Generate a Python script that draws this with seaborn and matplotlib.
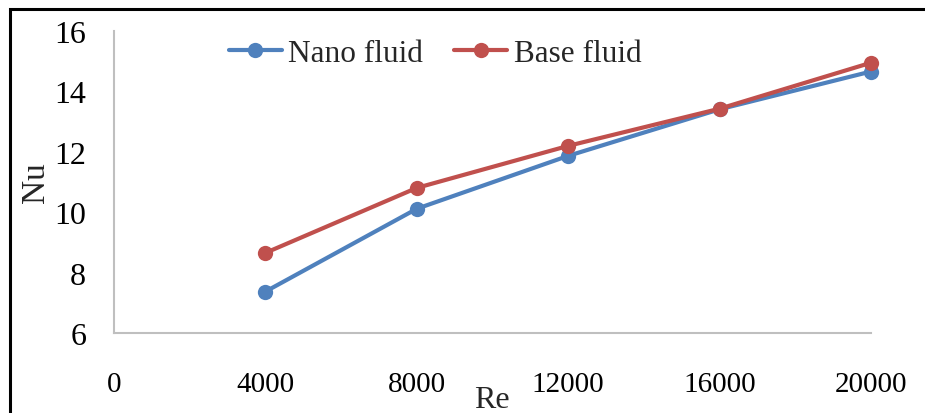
import matplotlib
matplotlib.use("Agg")
import matplotlib.pyplot as plt
import seaborn as sns
import pandas as pd
from matplotlib.patches import Rectangle

re_values = [4000, 8000, 12000, 16000, 20000]
nano_fluid = [7.37, 10.11, 11.86, 13.40, 14.65]
base_fluid = [8.65, 10.80, 12.19, 13.42, 14.94]
series_names = ["Nano fluid", "Base fluid"]
x_ticks = [0, 4000, 8000, 12000, 16000, 20000]
y_ticks = [6, 8, 10, 12, 14, 16]

df = pd.DataFrame({
    "Re": re_values * 2,
    "Nu": nano_fluid + base_fluid,
    "Fluid": [series_names[0]] * len(re_values) + [series_names[1]] * len(re_values),
})

sns.set_theme(style="white")
plt.rcParams["font.family"] = ["Liberation Serif", "DejaVu Serif"]

fig = plt.figure(figsize=(9.25, 4.14), dpi=100)
ax = fig.add_axes([114 / 925, 1 - 334 / 414, (871 - 114) / 925, (334 - 31.7) / 414])

palette = {"Nano fluid": "#4F81BD", "Base fluid": "#C0504D"}
sns.lineplot(data=df, x="Re", y="Nu", hue="Fluid", hue_order=series_names,
             palette=palette, marker="o", markersize=11, markeredgewidth=0,
             linewidth=3.0, ax=ax)
for ln in ax.lines:
    ln.set_clip_on(False)

ax.set_xlim(0, 20000)
ax.set_ylim(6, 16)
ax.set_xticks(x_ticks)
ax.set_yticks(y_ticks)
ax.tick_params(axis="both", length=0, colors="black")
ax.tick_params(axis="y", pad=20, labelsize=23)
ax.tick_params(axis="x", pad=27, labelsize=21)
for side in ["top", "right"]:
    ax.spines[side].set_visible(False)
for side in ["left", "bottom"]:
    ax.spines[side].set_color("#BFBFBF")
    ax.spines[side].set_linewidth(1.5)

ax.set_xlabel("")
ax.set_ylabel("")
fig.text(492 / 925, 1 - 401 / 414, "Re", ha="center", va="center", fontsize=23)
fig.text(36 / 925, 1 - 183 / 414, "Nu", ha="center", va="center", fontsize=24, rotation=90)

handles, labels = ax.get_legend_handles_labels()
for h in handles:
    h.set_linewidth(3.0)
    h.set_markersize(11)
ax.legend(handles, labels, ncol=2, loc="center", bbox_to_anchor=(435 / 925, 1 - 54 / 414),
          bbox_transform=fig.transFigure, frameon=False, fontsize=22.5,
          handlelength=1.7, handletextpad=0.2, columnspacing=1.0, borderpad=0)

fig.patches.append(Rectangle((10 / 925, -0.1), 1.0, 1 - 10 / 414 + 0.1, transform=fig.transFigure,
                             fill=False, edgecolor="black", linewidth=2.2, figure=fig))

fig.savefig("out.png", dpi=100, facecolor="white")
